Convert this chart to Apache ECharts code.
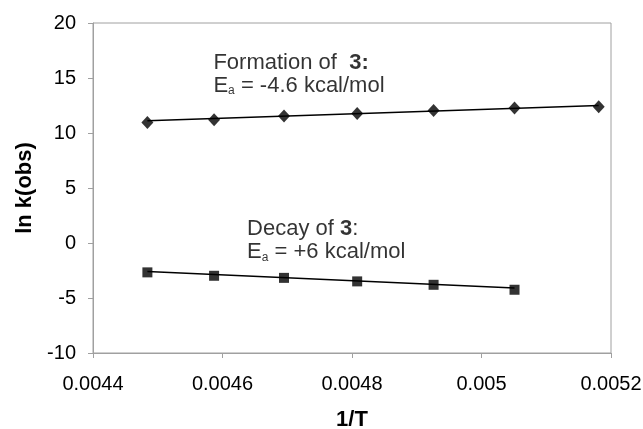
<!DOCTYPE html>
<html>
<head>
<meta charset="utf-8">
<script src="https://cdn.jsdelivr.net/npm/echarts@6/dist/echarts.min.js"></script>
<style>html,body{margin:0;padding:0;background:#fff}#c{width:643px;height:429px}</style>
</head>
<body>
<div id="c"></div>
<script>
// 1/T values (K^-1)
var invT = [0.004484, 0.004587, 0.004695, 0.004808, 0.004926, 0.005051, 0.005181];
// ln k(obs) — formation of 3
var lnkFormation = [10.96, 11.21, 11.55, 11.78, 12.05, 12.28, 12.38];
// ln k(obs) — decay of 3 (first six temperatures)
var lnkDecay = [-2.67, -2.98, -3.17, -3.49, -3.80, -4.25];
// trend line end points
var trendFormationX = [0.004484, 0.005181];
var trendFormationY = [11.12, 12.50];
var trendDecayX = [0.004484, 0.005051];
var trendDecayY = [-2.60, -4.08];
// axis ticks
var xTicks = ['0.0044', '0.0046', '0.0048', '0.005', '0.0052'];
var yTicks = ['-10', '-5', '0', '5', '10', '15', '20'];
// annotation anchors (data coords)
var noteFormation = [0.004586, 15.35];
var noteDecay = [0.004638, 0.25];

var FONT = 'Liberation Sans, Arial, sans-serif';
var chart = echarts.init(document.getElementById('c'));

function pairs(xs, ys) { return ys.map(function (y, i) { return [xs[i], y]; }); }

var richStyle = {
  n: { fontSize: 22, color: '#000', fontFamily: FONT, lineHeight: 23 },
  b: { fontSize: 22, color: '#000', fontFamily: FONT, fontWeight: 'bold', lineHeight: 23 },
  sub: { fontSize: 12, color: '#000', fontFamily: FONT, lineHeight: 23, verticalAlign: 'bottom', padding: [14, 0, 0, 0] }
};

chart.setOption({
  animation: false,
  backgroundColor: '#fff',
  grid: { left: 93, right: 32, top: 23, bottom: 76, show: true, borderColor: '#a0a0a0', borderWidth: 1,
          containLabel: false, outerBoundsMode: 'none' },
  xAxis: {
    type: 'value', min: 0.0044, max: 0.0052, interval: 0.0002,
    name: '1/T', nameLocation: 'middle', nameGap: 56,
    nameTextStyle: { fontSize: 22, fontWeight: 'bold', color: '#000', fontFamily: FONT },
    axisLine: { show: true, onZero: false, lineStyle: { color: '#a0a0a0', width: 1 } },
    axisTick: { show: true, length: 5, lineStyle: { color: '#a0a0a0' } },
    splitLine: { show: false },
    axisLabel: {
      fontSize: 20, color: '#000', fontFamily: FONT, margin: 21,
      formatter: function (v) {
        var i = Math.round((v - 0.0044) / 0.0002);
        return xTicks[i] !== undefined ? xTicks[i] : '';
      }
    }
  },
  yAxis: {
    type: 'value', min: -10, max: 20, interval: 5,
    name: 'ln k(obs)', nameLocation: 'middle', nameGap: 56,
    nameTextStyle: { fontSize: 22, fontWeight: 'bold', color: '#000', fontFamily: FONT },
    axisLine: { show: true, onZero: false, lineStyle: { color: '#a0a0a0', width: 1 } },
    axisTick: { show: true, length: 5, lineStyle: { color: '#a0a0a0' } },
    splitLine: { show: false },
    axisLabel: {
      fontSize: 20, color: '#000', fontFamily: FONT, margin: 17,
      formatter: function (v) {
        var i = Math.round((v + 10) / 5);
        return yTicks[i] !== undefined ? yTicks[i] : '';
      }
    }
  },
  series: [
    {
      type: 'line', data: pairs(trendFormationX, trendFormationY), symbol: 'none',
      lineStyle: { color: '#000', width: 1.5 }, silent: true, z: 2
    },
    {
      type: 'line', data: pairs(trendDecayX, trendDecayY), symbol: 'none',
      lineStyle: { color: '#000', width: 1.5 }, silent: true, z: 2
    },
    {
      type: 'scatter', data: pairs(invT, lnkFormation), symbol: 'diamond', symbolSize: [12, 13],
      itemStyle: { color: '#000' }, z: 3
    },
    {
      type: 'scatter', data: pairs(invT, lnkDecay), symbol: 'rect', symbolSize: 10,
      itemStyle: { color: '#000' }, z: 3
    },
    {
      type: 'scatter', symbolSize: 0, silent: true, z: 4,
      data: [
        { value: noteFormation, label: { formatter: '{n|Formation of  }{b|3:}\n{n|E}{sub|a}{n| = -4.6 kcal/mol}' } },
        { value: noteDecay, label: { formatter: '{n|Decay of }{b|3}{n|:}\n{n|E}{sub|a}{n| = +6 kcal/mol}' } }
      ],
      label: { show: true, position: 'right', distance: 0, align: 'left', verticalAlign: 'middle', rich: richStyle }
    }
  ]
});
</script>
</body>
</html>
